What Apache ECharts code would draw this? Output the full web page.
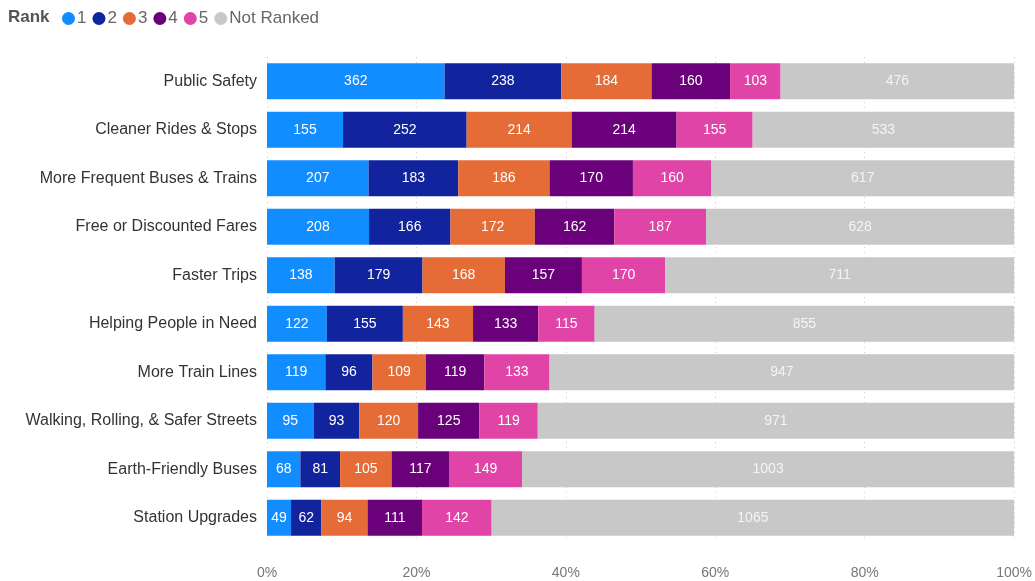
<!DOCTYPE html>
<html>
<head>
<meta charset="utf-8">
<script src="https://cdn.jsdelivr.net/npm/echarts@6/dist/echarts.min.js"></script>
<style>
  html, body { margin: 0; padding: 0; background: #fff; }
  #chart { width: 1035px; height: 581px; }
</style>
</head>
<body>
<div id="chart"></div>
<script>
const categories = [
  'Public Safety',
  'Cleaner Rides & Stops',
  'More Frequent Buses & Trains',
  'Free or Discounted Fares',
  'Faster Trips',
  'Helping People in Need',
  'More Train Lines',
  'Walking, Rolling, & Safer Streets',
  'Earth-Friendly Buses',
  'Station Upgrades'
]
const rank1 = [362, 155, 207, 208, 138, 122, 119, 95, 68, 49]
const rank2 = [238, 252, 183, 166, 179, 155, 96, 93, 81, 62]
const rank3 = [184, 214, 186, 172, 168, 143, 109, 120, 105, 94]
const rank4 = [160, 214, 170, 162, 157, 133, 119, 125, 117, 111]
const rank5 = [103, 155, 160, 187, 170, 115, 133, 119, 149, 142]
const notRanked = [476, 533, 617, 628, 711, 855, 947, 971, 1003, 1065]
const xTicks = ['0%', '20%', '40%', '60%', '80%', '100%']

const seriesDefs = [
  { name: '1', values: rank1, color: '#118DFF' },
  { name: '2', values: rank2, color: '#12239E' },
  { name: '3', values: rank3, color: '#E66C37' },
  { name: '4', values: rank4, color: '#6B007B' },
  { name: '5', values: rank5, color: '#E044A7' },
  { name: 'Not Ranked', values: notRanked, color: '#C8C8C8' }
]

// row totals, used to turn counts into shares of 100%
const totals = categories.map((c, i) =>
  seriesDefs.reduce((s, d) => s + d.values[i], 0)
)

const chart = echarts.init(document.getElementById('chart'), null, { renderer: 'canvas' })

const option = {
  animation: false,
  textStyle: { fontFamily: 'Liberation Sans, Arial, sans-serif' },
  title: {
    text: 'Rank',
    left: 3,
    top: 4,
    textStyle: { fontSize: 17, fontWeight: 'bold', color: '#555' }
  },
  legend: {
    left: 57,
    top: 5,
    icon: 'circle',
    itemWidth: 13,
    itemHeight: 13,
    itemGap: 6,
    textStyle: { fontSize: 17, color: '#666', padding: [0, 0, 0, -3] },
    data: seriesDefs.map(d => d.name)
  },
  grid: {
    left: 267,
    right: 20,
    top: 57,
    bottom: 39
  },
  xAxis: {
    type: 'value',
    min: 0,
    max: 100,
    interval: 20,
    axisLine: { show: false },
    axisTick: { show: false },
    axisLabel: {
      color: '#777',
      fontSize: 14,
      margin: 24,
      formatter: v => xTicks[v / 20]
    },
    splitLine: {
      show: true,
      lineStyle: { color: '#ccc', type: [1, 4], width: 1 }
    }
  },
  yAxis: {
    type: 'category',
    inverse: true,
    data: categories,
    axisLine: { show: false },
    axisTick: { show: false },
    axisLabel: { color: '#333', fontSize: 16, margin: 10, padding: [3, 0, 0, 0] }
  },
  series: seriesDefs.map(d => ({
    name: d.name,
    type: 'bar',
    stack: 'total',
    barWidth: 36,
    itemStyle: { color: d.color },
    label: {
      show: true,
      position: 'inside',
      color: d.name === 'Not Ranked' ? '#f4f4f4' : '#fff',
      fontSize: 14,
      padding: [2, 0, 0, 0],
      formatter: p => d.values[p.dataIndex]
    },
    data: d.values.map((v, i) => (v / totals[i]) * 100)
  }))
}

chart.setOption(option)
window.addEventListener('resize', () => chart.resize())
</script>
</body>
</html>
